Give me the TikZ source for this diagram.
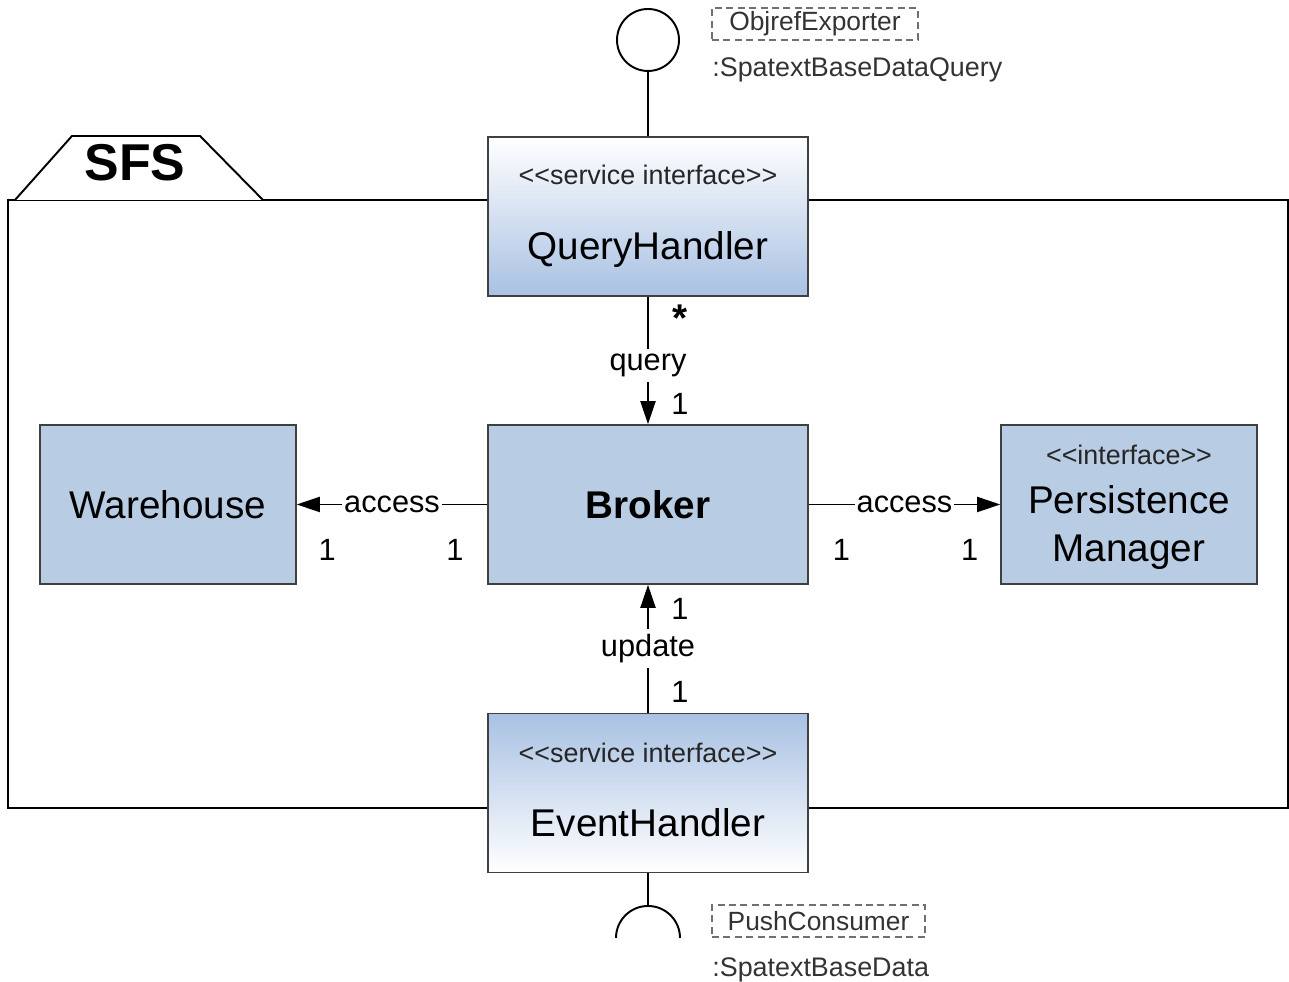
\documentclass[tikz,border=0pt]{standalone}
\usepackage{fontspec}
\setmainfont{Liberation Sans}[Ligatures=TeXOff]
\usetikzlibrary{arrows.meta,positioning}
\usepackage{xcolor}

\definecolor{boxblue}{HTML}{B8CCE4}
\definecolor{gradblue}{HTML}{A9C1E3}
\definecolor{edgegray}{HTML}{404040}
\definecolor{portgray}{HTML}{707070}

\tikzset{
  classbox/.style={draw=edgegray, line width=0.9pt, fill=boxblue, minimum width=6.4cm, minimum height=3.18cm, inner sep=0pt},
  sidebox/.style={classbox, minimum width=5.12cm},
  svcdown/.style={classbox, top color=white, bottom color=gradblue},
  svcup/.style={classbox, top color=gradblue, bottom color=white},
  stereo/.style={font=\fontsize{15.3}{18}\selectfont, text=black!85},
  cname/.style={font=\fontsize{22}{27.8}\selectfont},
  lbl/.style={font=\fontsize{17.5}{20}\selectfont, fill=white, inner xsep=1pt, inner ysep=3pt},
  mult/.style={font=\fontsize{17.5}{20}\selectfont, inner sep=0pt},
  portbox/.style={draw=portgray, dashed, dash pattern=on 4pt off 2.5pt, line width=0.8pt, text=black!80, font=\fontsize{15}{17}\selectfont, inner sep=0pt},
  porttext/.style={text=black!80, font=\fontsize{15.3}{18}\selectfont, inner sep=0pt, anchor=west},
  conn/.style={line width=1.1pt, -{Triangle[length=0.46cm,width=0.3cm]}},
  plain/.style={line width=1.1pt}
}

\begin{document}
\begin{tikzpicture}[x=0.02cm, y=0.02cm]
    \useasboundingbox (0,0) rectangle (1289,982);

    % package frame
    \draw[plain] (8,174) rectangle (1288,782);
    \draw[plain, fill=white] (15,782) -- (72,846) -- (200,846) -- (263,782);
    \node[font=\bfseries\fontsize{29.5}{32}\selectfont] (sfs) at (135,819) {SFS};

    % classes
    \node[svcdown] (qh) at (648,765.5) {};
    \node[classbox] (broker) at (648,477.5) {};
    \node[sidebox] (wh) at (168,477.5) {};
    \node[sidebox] (pm) at (1129,477.5) {};
    \node[svcup] (eh) at (648,189) {};

    \node[stereo] (qhst) at ([yshift=0.83cm]qh.center) {<<service interface>>};
    \node[cname] (qhname) at ([yshift=-0.67cm]qh.center) {QueryHandler};
    \node[cname] (brname) at (broker.center) {\bfseries Broker};
    \node[cname] (whname) at (wh.center) {Warehouse};
    \node[stereo] (pmst) at ([yshift=0.99cm]pm.center) {<<interface>>};
    \node[cname, align=center] (pmname) at ([yshift=-0.46cm]pm.center) {Persistence\\Manager};
    \node[stereo] (ehst) at ([yshift=0.8cm]eh.center) {<<service interface>>};
    \node[cname] (ehname) at ([yshift=-0.6cm]eh.center) {EventHandler};

    % provided interface
    \node[draw, circle, plain, minimum size=1.24cm, inner sep=0pt] (prov) at (648,942) {};
    \draw[plain] (qh.north) -- (prov.south);
    \node[portbox, minimum width=4.12cm, minimum height=0.64cm] (objref) at (815,958) {ObjrefExporter};
    \node[porttext] (qtype) at (712,912) {:SpatextBaseDataQuery};

    % required interface
    \coordinate (sock) at (648,76);
    \draw[plain] (eh.south) -- (sock);
    \draw[plain] ([shift={(-0.64cm,-0.64cm)}]sock) arc[start angle=180, end angle=0, radius=0.64cm];
    \node[portbox, minimum width=4.26cm, minimum height=0.64cm] (push) at (818.5,61) {PushConsumer};
    \node[porttext] (dtype) at (712,12) {:SpatextBaseData};

    % associations
    \draw[conn] (qh) -- node[lbl, yshift=-0.1cm] {query} node[mult, pos=0.17, xshift=0.64cm, font=\bfseries\fontsize{22}{24}\selectfont] {*} node[mult, pos=0.84, xshift=0.64cm] {1} (broker);
    \draw[conn] (broker) -- node[lbl] {access} node[mult, pos=0.17, yshift=-0.91cm] {1} node[mult, pos=0.84, yshift=-0.91cm] {1} (wh);
    \draw[conn] (broker) -- node[lbl] {access} node[mult, pos=0.17, yshift=-0.91cm] {1} node[mult, pos=0.84, yshift=-0.91cm] {1} (pm);
    \draw[conn] (eh) -- node[lbl] {update} node[mult, pos=0.16, xshift=0.64cm] {1} node[mult, pos=0.81, xshift=0.64cm] {1} (broker);
\end{tikzpicture}
\end{document}
